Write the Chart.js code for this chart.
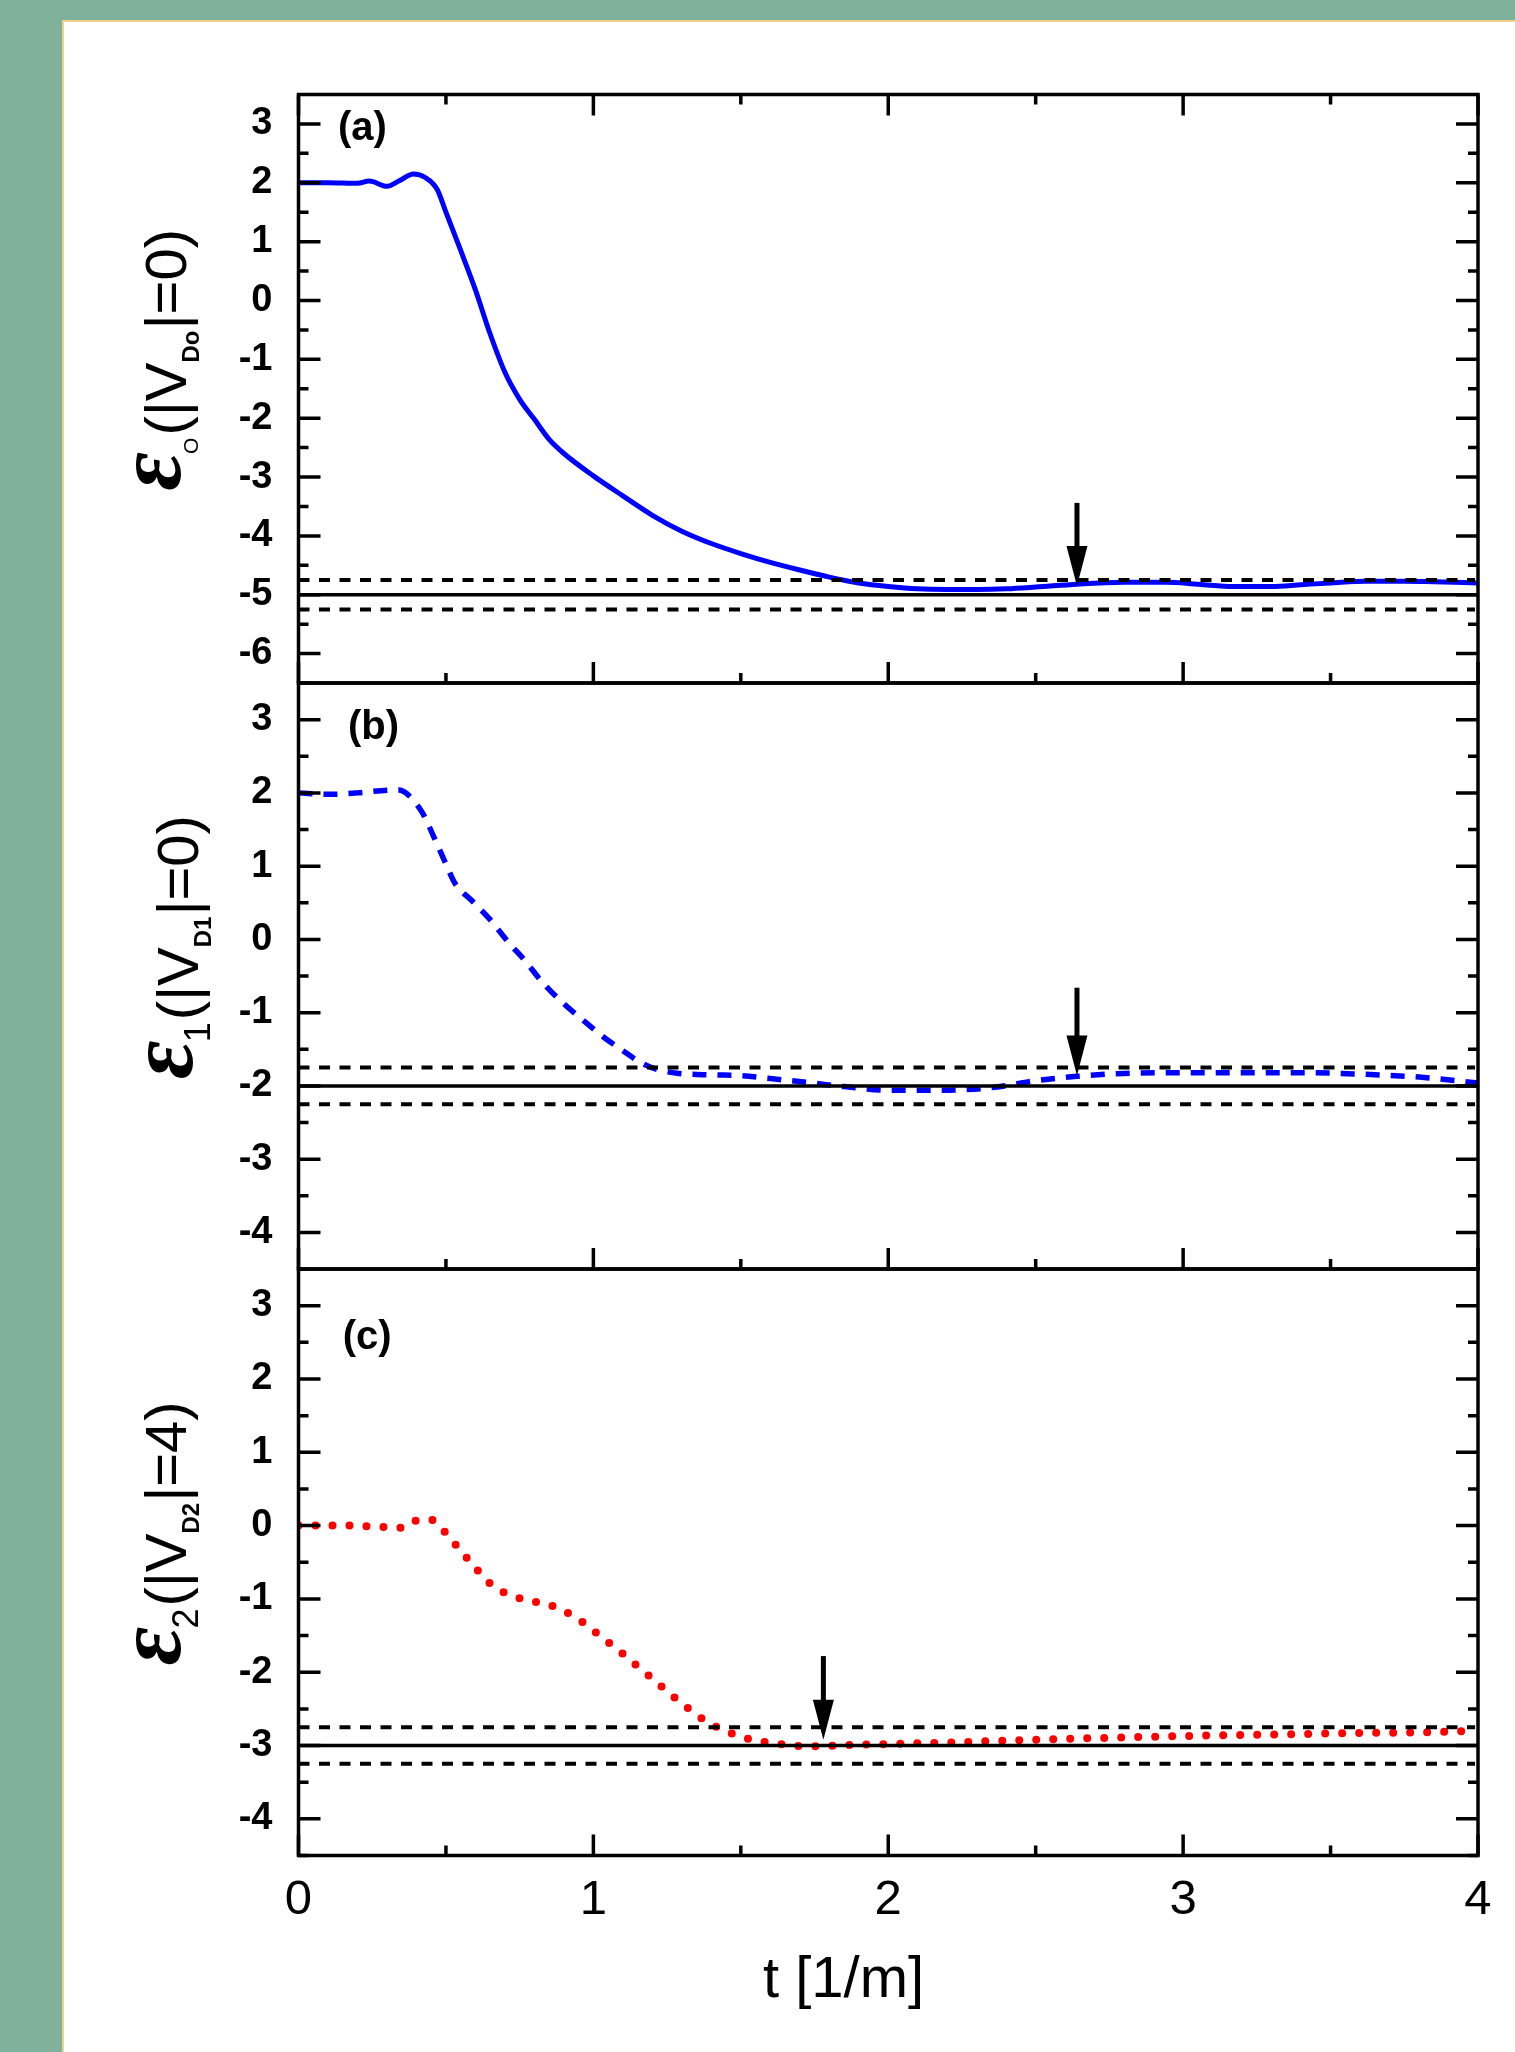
<!DOCTYPE html>
<html lang="en">
<head>
<meta charset="UTF-8">
<title>Energy relaxation vs t</title>
<script src="https://cdn.jsdelivr.net/npm/chart.js"></script>
<style>
  html, body { margin: 0; padding: 0; }
  body { width: 1515px; height: 2052px; background: #80b29b; position: relative; overflow: hidden; }
  .sheet { position: absolute; left: 62px; top: 20px; right: 0; bottom: 0; background: #fff;
           border-left: 2px solid #f1cf8f; border-top: 2px solid #f1cf8f; }
  canvas { position: absolute; left: 0; }
</style>
</head>
<body>
<div class="sheet"></div>
<canvas id="pa" width="1515" height="743" style="top:0px"></canvas>
<canvas id="pb" width="1515" height="706" style="top:623px"></canvas>
<canvas id="pc" width="1515" height="843" style="top:1209px"></canvas>

<script>
// --- data ---
const tA = [0, 0.1, 0.2, 0.24, 0.3, 0.34, 0.39, 0.43, 0.47, 0.5, 0.55, 0.6, 0.65, 0.7, 0.75, 0.8, 0.85, 0.9,
            1.0, 1.1, 1.2, 1.3, 1.4, 1.5, 1.6, 1.7, 1.8, 1.9, 2.0, 2.1, 2.2, 2.3, 2.4, 2.5, 2.64, 2.8, 2.94, 3.05,
            3.17, 3.3, 3.4, 3.5, 3.62, 3.75, 3.85, 4.0];
const eA = [2.0, 2.0, 1.99, 2.03, 1.94, 2.03, 2.15, 2.09, 1.89, 1.5, 0.85, 0.18, -0.57, -1.22, -1.68, -2.02, -2.36, -2.6,
            -2.98, -3.32, -3.65, -3.92, -4.13, -4.3, -4.45, -4.58, -4.7, -4.8, -4.86, -4.9, -4.91, -4.91, -4.9, -4.87, -4.82, -4.79, -4.79, -4.82,
            -4.86, -4.86, -4.83, -4.8, -4.77, -4.77, -4.78, -4.8];

const tB = [0, 0.1, 0.2, 0.28, 0.34, 0.37, 0.42, 0.46, 0.5, 0.53, 0.59, 0.65, 0.71, 0.77, 0.83, 0.9, 0.97, 1.03, 1.1, 1.16,
            1.22, 1.29, 1.4, 1.5, 1.6, 1.74, 1.85, 2.0, 2.18, 2.36, 2.5, 2.64, 2.8, 3.0, 3.2, 3.42, 3.6, 3.8, 4.0];
const eB = [2.0, 1.98, 2.0, 2.03, 2.04, 1.98, 1.73, 1.39, 1.03, 0.77, 0.52, 0.27, -0.03, -0.3, -0.6, -0.88, -1.12, -1.32, -1.52, -1.68,
            -1.78, -1.83, -1.85, -1.86, -1.9, -1.96, -2.01, -2.06, -2.06, -2.02, -1.93, -1.87, -1.83, -1.82, -1.82, -1.82, -1.84, -1.88, -1.96];

const tC = [0, 0.06, 0.12, 0.18, 0.235, 0.29, 0.35, 0.40, 0.45, 0.495, 0.535, 0.573, 0.61, 0.65, 0.70, 0.758, 0.815, 0.87, 0.917, 0.965,
            1.012, 1.056, 1.10, 1.144, 1.189, 1.233, 1.277, 1.324, 1.371, 1.425, 1.48, 1.537, 1.595, 1.655, 1.713, 1.77, 1.83, 1.9, 2.0, 2.2,
            2.5, 2.8, 3.0, 3.3, 3.6, 3.8, 4.0];
const eC = [0, 0, 0, 0, -0.01, -0.02, -0.03, 0.07, 0.08, -0.08, -0.27, -0.45, -0.62, -0.79, -0.92, -1.0, -1.05, -1.11, -1.2, -1.32,
            -1.47, -1.61, -1.75, -1.9, -2.05, -2.2, -2.35, -2.5, -2.64, -2.76, -2.85, -2.92, -2.96, -2.99, -3.01, -3.01, -3.0, -2.99, -2.98, -2.96,
            -2.92, -2.89, -2.87, -2.85, -2.83, -2.82, -2.8];

// reference levels (solid) and the +-band (dashed)
const refLevels = [-5, -2, -3];
const band = 0.25;

// arrows: t position, tail value, tip value
const arrowT = [2.64, 2.64, 1.78];
const arrowTail = [-3.44, -0.66, -1.78];
const arrowTip = [-4.85, -1.86, -2.92];

// axis ticks
const xTicks = [0, 1, 2, 3, 4];
const xMinor = [0.5, 1.5, 2.5, 3.5];
const yTicksA = [3, 2, 1, 0, -1, -2, -3, -4, -5, -6];
const yTicksB = [3, 2, 1, 0, -1, -2, -3, -4];
const yTicksC = [3, 2, 1, 0, -1, -2, -3, -4];

const SANS = '"Liberation Sans", Arial, sans-serif';

function pts(ts, vs) { return ts.map((t, i) => ({ x: t, y: vs[i] })); }

function refSets(level) {
  return [
    { data: pts([0, 4], [level, level]), borderColor: '#000', borderWidth: 3.5 },
    { data: pts([0, 3.99], [level + band, level + band]), borderColor: '#000', borderWidth: 4, borderDash: [11, 9.5] },
    { data: pts([0, 3.99], [level - band, level - band]), borderColor: '#000', borderWidth: 4, borderDash: [11, 9.5] }
  ];
}

function drawRotated(ctx, runs, xBase, yCenter) {
  let total = 0;
  runs.forEach(r => { ctx.font = r.font; r.w = ctx.measureText(r.text).width; total += r.w + (r.gap || 0); });
  ctx.save();
  ctx.translate(xBase, yCenter + total / 2);
  ctx.rotate(-Math.PI / 2);
  ctx.textAlign = 'left';
  ctx.textBaseline = 'alphabetic';
  let x = 0;
  runs.forEach(r => { ctx.font = r.font; ctx.fillText(r.text, x, r.dy || 0); x += r.w + (r.gap || 0); });
  ctx.restore();
}

const decor = {
  id: 'decor',
  afterDraw(chart, args, o) {
    const { ctx, chartArea: a, scales: { x, y } } = chart;
    ctx.save();
    ctx.strokeStyle = '#000';
    ctx.fillStyle = '#000';
    ctx.lineWidth = 3.5;
    ctx.strokeRect(a.left, a.top, a.right - a.left, a.bottom - a.top);

    // inward ticks
    ctx.beginPath();
    const xt = (v, len) => {
      const px = x.getPixelForValue(v);
      ctx.moveTo(px, a.bottom); ctx.lineTo(px, a.bottom - len);
      if (o.topTicks) { ctx.moveTo(px, a.top); ctx.lineTo(px, a.top + len); }
    };
    xTicks.forEach(v => xt(v, 21));
    xMinor.forEach(v => xt(v, 10));
    const yt = (v, len) => {
      const py = y.getPixelForValue(v);
      ctx.moveTo(a.left, py); ctx.lineTo(a.left + len, py);
      ctx.moveTo(a.right, py); ctx.lineTo(a.right - len, py);
    };
    o.yTicks.forEach(v => { yt(v, 22); yt(v - 0.5, 10); });
    ctx.stroke();

    // arrow
    const ax = x.getPixelForValue(arrowT[o.idx]);
    const y0 = y.getPixelForValue(arrowTail[o.idx]);
    const y1 = y.getPixelForValue(arrowTip[o.idx]);
    const headLen = 40, headW = 21, shaft = 5;
    ctx.fillRect(ax - shaft / 2, y0, shaft, y1 - headLen - y0 + 2);
    ctx.beginPath();
    ctx.moveTo(ax - headW / 2, y1 - headLen);
    ctx.lineTo(ax + headW / 2, y1 - headLen);
    ctx.lineTo(ax, y1);
    ctx.closePath();
    ctx.fill();

    // panel tag
    ctx.font = 'bold 40px ' + SANS;
    ctx.textAlign = 'left';
    ctx.textBaseline = 'alphabetic';
    ctx.fillText(o.tag.text, x.getPixelForValue(o.tag.t), y.getPixelForValue(o.tag.v));

    // y title
    drawRotated(ctx, o.yTitle, o.titleX, (a.top + a.bottom) / 2 - 29);

    // x title
    if (o.xTitle) {
      ctx.font = '58px ' + SANS;
      ctx.textAlign = 'left';
      ctx.fillText(o.xTitle, 763, a.bottom + 141.5);
    }
    ctx.restore();
  }
};

function eps(sub, subFont) {
  return [
    { text: '\u03b5', font: 'italic bold 94px "Liberation Serif", serif', dy: -6, gap: -2 },
    { text: sub, font: subFont, dy: 12, gap: 2 }
  ];
}

function panel(id, cfg) {
  return new Chart(document.getElementById(id), {
    type: 'line',
    data: { datasets: cfg.datasets },
    options: {
      responsive: false,
      animation: false,
      devicePixelRatio: 1,
      events: [],
      layout: { padding: { top: cfg.padTop, bottom: cfg.padBottom, left: 0, right: 37 } },
      elements: { point: { radius: 0 }, line: { fill: false } },
      plugins: {
        legend: { display: false },
        tooltip: { enabled: false },
        decor: cfg.decor
      },
      scales: {
        x: {
          type: 'linear', min: 0, max: 4, display: cfg.showX,
          afterBuildTicks: s => { s.ticks = xTicks.map(v => ({ value: v })); },
          afterFit: s => { if (cfg.showX) s.height = 196.5; },
          grid: { display: false, drawTicks: false },
          border: { display: false },
          ticks: { font: { family: SANS, size: 49 }, color: '#000', padding: 16, maxRotation: 0, autoSkip: false }
        },
        y: {
          type: 'linear', min: cfg.yMin, max: 3.5,
          afterBuildTicks: s => { s.ticks = cfg.yTicks.map(v => ({ value: v })); },
          afterFit: s => { s.width = 298.5; },
          grid: { display: false, drawTicks: false },
          border: { display: false },
          ticks: { font: { family: SANS, size: 38, weight: 'bold' }, color: '#000', padding: 26, autoSkip: false }
        }
      }
    },
    plugins: [decor]
  });
}

const mainFont = '58px ' + SANS;
const subD = 'bold 24px ' + SANS;
const subDigit = '36px ' + SANS;

// panel (a): chart area 94.5 .. 683 on the page
panel('pa', {
  padTop: 94.5, padBottom: 60, showX: false, yMin: -6.5, yTicks: yTicksA,
  datasets: [...refSets(refLevels[0]),
    { data: pts(tA, eA), borderColor: '#0000ff', borderWidth: 5, cubicInterpolationMode: 'monotone' }],
  decor: {
    idx: 0, topTicks: true, yTicks: yTicksA, titleX: 186,
    tag: { text: '(a)', t: 0.134, v: 2.73 },
    yTitle: [...eps('O', '21px ' + SANS),
      { text: '(|V', font: mainFont }, { text: 'Do', font: subD, dy: 13, gap: 1 }, { text: '|=0)', font: mainFont }]
  }
});

// panel (b): chart area 683 .. 1269
panel('pb', {
  padTop: 60, padBottom: 60, showX: false, yMin: -4.5, yTicks: yTicksB,
  datasets: [...refSets(refLevels[1]),
    { data: pts(tB, eB), borderColor: '#0000ff', borderWidth: 5.5, borderDash: [14, 11], cubicInterpolationMode: 'monotone' }],
  decor: {
    idx: 1, topTicks: false, yTicks: yTicksB, titleX: 198,
    tag: { text: '(b)', t: 0.168, v: 2.74 },
    yTitle: [...eps('1', subDigit),
      { text: '(|V', font: mainFont }, { text: 'D1', font: subD, dy: 13, gap: 1 }, { text: '|=0)', font: mainFont }]
  }
});

// panel (c): chart area 1269 .. 1855.5, with the t axis
panel('pc', {
  padTop: 60, padBottom: 0, showX: true, yMin: -4.5, yTicks: yTicksC,
  datasets: [...refSets(refLevels[2]),
    { data: pts(tC, eC), borderColor: '#ff0000', borderWidth: 8, borderDash: [0, 17], borderCapStyle: 'round', cubicInterpolationMode: 'monotone' }],
  decor: {
    idx: 2, topTicks: false, yTicks: yTicksC, titleX: 186,
    tag: { text: '(c)', t: 0.15, v: 2.41 },
    xTitle: 't [1/m]',
    yTitle: [...eps('2', subDigit),
      { text: '(|V', font: mainFont }, { text: 'D2', font: subD, dy: 13, gap: 1 }, { text: '|=4)', font: mainFont }]
  }
});
</script>
</body>
</html>
